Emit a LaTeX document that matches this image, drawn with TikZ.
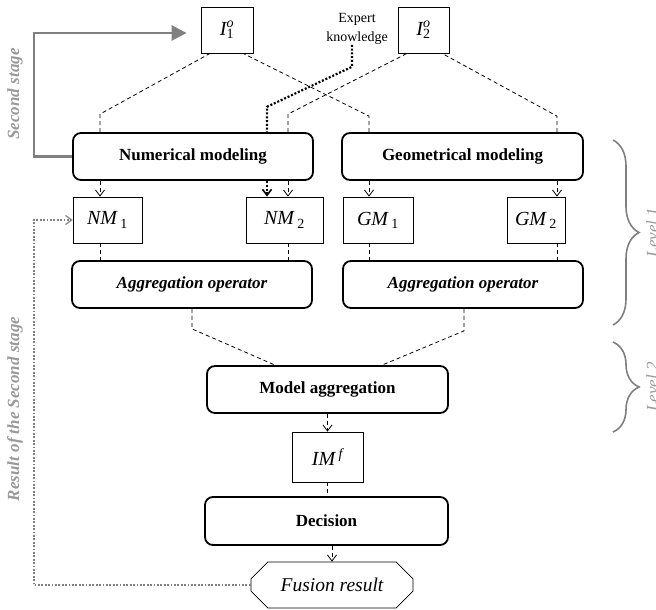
\documentclass[tikz,border=0pt]{standalone}
\usepackage{fontspec}
\setmainfont{Liberation Serif}
\usetikzlibrary{arrows.meta,shapes.misc,decorations.pathreplacing,calc}

\definecolor{linegray}{gray}{0.5}
\definecolor{textgray}{gray}{0.6}

% italic symbol with stacked superscript and subscript
\newcommand\symsupsub[3]{{\itshape #1}\rlap{\textsuperscript{\itshape #2}}\textsubscript{#3}}
\newcommand\symsub[2]{{\itshape #1}\,\textsubscript{#2}}

\begin{document}
\begin{tikzpicture}[x=1pt,y=-1pt,
  sbox/.style={draw,line width=0.8pt,inner sep=0pt,font=\fontsize{20}{22}\selectfont},
  rbox/.style={draw,line width=1.8pt,rounded corners=8pt,inner sep=0pt,minimum height=47pt,
               font=\fontsize{17}{20}\selectfont\bfseries},
  ibox/.style={rbox,font=\fontsize{17}{20}\selectfont\bfseries\itshape},
  dline/.style={dash pattern=on 4pt off 3pt,line width=0.8pt},
  darrow/.style={dline,-{Straight Barb[length=6pt,width=9pt]}},
  expertline/.style={line width=2.2pt,dash pattern=on 2pt off 1.8pt},
  expertarrow/.style={expertline,-{Straight Barb[length=6pt,width=9pt,line width=1.6pt]}},
  stagearrow/.style={draw=linegray,line width=2.6pt,-{Triangle[length=15pt,width=15pt,fill=linegray]}},
  returnline/.style={draw=linegray,line width=1.8pt,dash pattern=on 1.8pt off 1.6pt,
                     -{Straight Barb[length=6pt,width=9pt,line width=1.2pt]}},
  bracepath/.style={draw=linegray,line width=1.6pt,decorate,decoration={brace,amplitude=26pt}},
  sidelabel/.style={rotate=90,text=textgray,font=\fontsize{17}{20}\selectfont\bfseries\itshape},
  levellabel/.style={rotate=90,anchor=base,text=textgray,font=\fontsize{17}{20}\selectfont\itshape}
]
\useasboundingbox (0,0) rectangle (656,610);

% inputs
\node[sbox,minimum width=52pt,minimum height=46pt] (I1) at (227,30) {\symsupsub{I}{o}{1}};
\node[sbox,minimum width=51pt,minimum height=46pt] (I2) at (423.5,30) {\symsupsub{I}{o}{2}};
\node[align=center,inner sep=0pt,font=\fontsize{14}{19}\selectfont] (expert) at (357,29) {Expert\\knowledge};

% level 1
\node[rbox,minimum width=240pt] (num) at (193,156.5) {Numerical modeling};
\node[rbox,minimum width=241pt] (geo) at (462.5,156.5) {Geometrical modeling};

\node[sbox,minimum width=69pt,minimum height=46pt] (nm1) at (107.5,220) {\symsub{NM}{1}};
\node[sbox,minimum width=77pt,minimum height=46pt] (nm2) at (284.5,220) {\symsub{NM}{2}};
\node[sbox,minimum width=70pt,minimum height=46pt] (gm1) at (378,220) {\symsub{GM}{1}};
\node[sbox,minimum width=58pt,minimum height=46pt] (gm2) at (536,220) {\symsub{GM}{2}};

\node[ibox,minimum width=240pt] (aggL) at (192,284.5) {Aggregation operator};
\node[ibox,minimum width=240pt] (aggR) at (463,284.5) {Aggregation operator};

% level 2 and decision
\node[rbox,minimum width=241pt] (model) at (327.5,389.5) {Model aggregation};
\node[sbox,minimum width=71pt,minimum height=50pt] (im) at (327.5,457) {{\itshape IM}\,\textsuperscript{\itshape f}};
\node[rbox,minimum width=243pt,minimum height=48pt] (dec) at (326.5,521) {Decision};
\node[draw,chamfered rectangle,chamfered rectangle xsep=11pt,chamfered rectangle ysep=10pt,
      line width=0.8pt,minimum width=162pt,minimum height=46pt,inner sep=0pt,
      font=\fontsize{19.5}{22}\selectfont\itshape] (fus) at (332,585) {Fusion result};

% inputs to the modeling blocks
\draw[dline] ([xshift=-93]num.north) -- ++(0,-18) -- ([xshift=-17]I1.south);
\draw[dline] ([xshift=-93.5]geo.north) -- ++(0,-16) -- ([xshift=16]I1.south);
\draw[dline] ([xshift=95]num.north) -- ++(0,-18) -- ([xshift=-16.5]I2.south);
\draw[dline] ([xshift=94.5]geo.north) -- ++(0,-16) -- ([xshift=18.5]I2.south);

% expert knowledge
\draw[expertline] ([xshift=-5]expert.south) -- ++(0,22) -- ++(-85,40) -- ([xshift=74]num.north);
\draw[expertarrow] ([xshift=74]num.south) -- ([xshift=-17.5]nm2.north);

% modeling to models
\draw[darrow] ([xshift=-93]num.south) -- ([xshift=-7.5]nm1.north);
\draw[darrow] ([xshift=95]num.south) -- ([xshift=3.5]nm2.north);
\draw[darrow] ([xshift=-93.5]geo.south) -- ([xshift=-9]gm1.north);
\draw[darrow] ([xshift=94.5]geo.south) -- ([xshift=21]gm2.north);

% models to aggregation
\draw[dline] ([xshift=-7.5]nm1.south) -- ([xshift=-92]aggL.north);
\draw[dline] ([xshift=3.5]nm2.south) -- ([xshift=96]aggL.north);
\draw[dline] ([xshift=-9]gm1.south) -- ([xshift=-94]aggR.north);
\draw[dline] ([xshift=21]gm2.south) -- ([xshift=94]aggR.north);

% aggregation to model aggregation
\draw[dline] (aggL.south) -- ++(0,20) -- ([xshift=-52.5]model.north);
\draw[dline] ([xshift=1]aggR.south) -- ++(0,22) -- ([xshift=54.5]model.north);

% final chain
\draw[darrow] (model.south) -- (im.north);
\draw[dline] (im.south) -- (im.south |- dec.north);
\draw[darrow] (dec.south -| fus.north) -- (fus.north);

% second stage loops
\draw[stagearrow,shorten >=14pt] (num.west) -- ++(-38,0) |- ([yshift=-3pt]I1.west);
\draw[returnline] (fus.west) -- ++(-217,0) |- (nm1.west);

\node[sidelabel] (stage) at (15,94) {Second stage};
\node[sidelabel] (result) at (15,409) {Result of the Second stage};

% levels
\coordinate (l1top) at (613,140);
\coordinate (l1bot) at (613,325);
\coordinate (l2top) at (613,342);
\coordinate (l2bot) at (613,432);
\draw[bracepath] (l1top) -- (l1bot);
\draw[bracepath] (l2top) -- (l2bot);
\node[levellabel] (lv1) at (658,232.5) {Level 1};
\node[levellabel] (lv2) at (658,387) {Level 2};
\end{tikzpicture}
\end{document}
